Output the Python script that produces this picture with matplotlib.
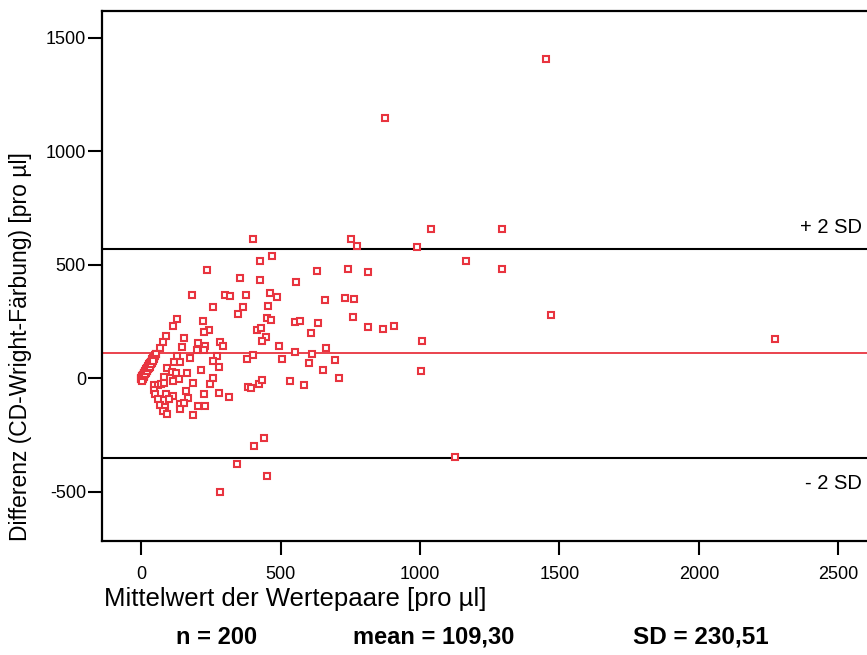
import matplotlib
matplotlib.use("Agg")
import matplotlib.pyplot as plt

plt.rcParams["font.family"] = ["Liberation Sans", "DejaVu Sans"]
plt.rcParams["axes.unicode_minus"] = False

# =========================
# DATA
# =========================
# mean of the value pairs [pro µl]
mean_vals = [
    # far / outliers
    1450, 875, 1040, 1295, 753, 774, 990, 401, 1165, 1295, 1470, 2272, 1007, 1003, 1125, 470, 427,
    # middle block
    631, 742, 814, 556, 660, 731, 763, 760, 552, 570, 634, 609, 814, 867, 907, 663, 552, 613,
    695, 602, 652, 710, 534, 584,
    # 200-500 block
    237, 355, 427, 301, 319, 376, 462, 487, 258, 366, 455, 348, 222, 452, 466, 244, 226, 416,
    430, 448, 434, 283, 294, 495, 229, 226, 401, 272, 380, 505, 258, 280, 215, 258, 247, 383,
    394, 423, 434, 226, 280, 315, 229, 441, 405, 344, 452, 283,
    # 0-200 block
    183, 129, 115, 90, 79, 68, 154, 147, 204, 201, 129, 176, 118, 140, 93, 111, 125, 165,
    136, 115, 82, 186, 47, 61, 72, 82, 47, 161, 50, 90, 115, 168, 61, 100, 68, 86, 140, 154,
    140, 204, 79, 186, 93,
    # streak near origin
    0.5, 1, 1.5, 2.5, 3, 4, 4.5, 6, 7, 7.5, 9, 10, 11.5, 12, 14, 15, 16.5, 18, 19, 20.5, 22,
    23, 25, 26, 27.5, 29, 30, 32, 33.5, 35, 36, 38, 39, 41, 42.5, 44, 45, 47, 48.5, 50, 52, 55,
    5, 10, 15, 20, 25, 30, 8, 12, 18, 22, 28, 35, 40, 45, 3, 6, 16, 33, 38, 43,
    2, 9, 14, 21, 27, 31, 37, 44,
]

# difference CD - Wright [pro µl]
diff_vals = [
    1405, 1145, 655, 655, 612, 580, 577, 612, 515, 480, 278, 172, 163, 31, -348, 537, 515,
    471, 480, 467, 423, 344, 352, 348, 269, 247, 251, 242, 198, 225, 216, 229, 132, 115, 106,
    79, 66, 35, 0, -13, -31,
    476, 440, 432, 366, 361, 366, 374, 357, 313, 313, 317, 282, 251, 264, 255, 211, 203, 211,
    220, 181, 163, 159, 141, 141, 141, 123, 101, 97, 84, 84, 75, 48, 35, 0, -26, -40,
    -44, -26, -9, -70, -66, -84, -123, -264, -300, -379, -432, -502,
    366, 260, 229, 185, 159, 132, 176, 137, 154, 123, 97, 88, 70, 70, 44, 26, 22, 22,
    -4, -13, 4, -22, -31, -31, -26, -22, -53, -57, -70, -70, -79, -88, -93, -93, -119, -128, -115, -110,
    -137, -123, -145, -163, -159,
    -6, -3, 0, 3, 5, 8, 9, 12, 14, 15, 18, 20, 23, 24, 28, 30, 33, 36, 38, 41, 44,
    46, 50, 52, 55, 58, 60, 64, 67, 70, 72, 76, 78, 82, 85, 88, 90, 94, 97, 100, 104, 108,
    -10, 5, 20, 30, 40, 50, -5, 10, 25, 35, 48, 62, 72, 85, -8, 2, 22, 58, 68, 80,
    -12, 8, 16, 30, 42, 50, 62, 76,
]

N = 200
MEAN_DIFF = 109.30
SD_DIFF = 230.51

x_ticks = [0, 500, 1000, 1500, 2000, 2500]
y_ticks = [-500, 0, 500, 1000, 1500]

RED = "#e8343f"

# =========================
# PLOT
# =========================
fig = plt.figure(figsize=(8.67, 6.55), dpi=100)
# axes run past the right edge of the picture, like in the original export
ax = fig.add_axes([102 / 867, 114 / 655, 0.9137, 530 / 655])

ax.plot(mean_vals, diff_vals, linestyle="none", marker="s", markersize=4.0,
        markerfacecolor="white", markeredgecolor=RED, markeredgewidth=1.5, zorder=3)

upper = MEAN_DIFF + 2 * SD_DIFF
lower = MEAN_DIFF - 2 * SD_DIFF
ax.axhline(MEAN_DIFF, color=RED, linewidth=1.3, zorder=2)
ax.axhline(upper, color="black", linewidth=1.5, zorder=2)
ax.axhline(lower, color="black", linewidth=1.5, zorder=2)

ax.text(2362, upper + 95, "+ 2 SD", fontsize=14.5, va="center", ha="left", clip_on=False)
ax.text(2380, lower - 115, "- 2 SD", fontsize=14.5, va="center", ha="left", clip_on=False)

ax.set_xlim(-140, 2700)
ax.set_ylim(-718, 1617)
ax.set_xticks(x_ticks)
ax.set_yticks(y_ticks)
ax.tick_params(direction="out", length=10, width=1.5, labelsize=13)
ax.tick_params(axis="y", pad=1.5)
ax.tick_params(axis="x", pad=8)

for side in ["top", "left", "bottom", "right"]:
    ax.spines[side].set_linewidth(1.6)

ax.set_xlabel("Mittelwert der Wertepaare [pro µl]", fontsize=18.5, ha="left", va="center")
ax.xaxis.set_label_coords((104 - 102) / 792, -(599 - 541) / 530)
ax.set_ylabel("Differenz (CD-Wright-Färbung) [pro µl]", fontsize=16.5, ha="left", va="center")
ax.yaxis.set_label_coords(-(102 - 21) / 792, 0)

fig.text(217 / 867, 1 - 637 / 655, f"n = {N}", fontsize=17, fontweight="bold", ha="center", va="center")
fig.text(434 / 867, 1 - 637 / 655, "mean = " + f"{MEAN_DIFF:.2f}".replace(".", ","),
         fontsize=17, fontweight="bold", ha="center", va="center")
fig.text(701 / 867, 1 - 637 / 655, "SD = " + f"{SD_DIFF:.2f}".replace(".", ","),
         fontsize=17.5, fontweight="bold", ha="center", va="center")

fig.savefig("out.png", dpi=100)
